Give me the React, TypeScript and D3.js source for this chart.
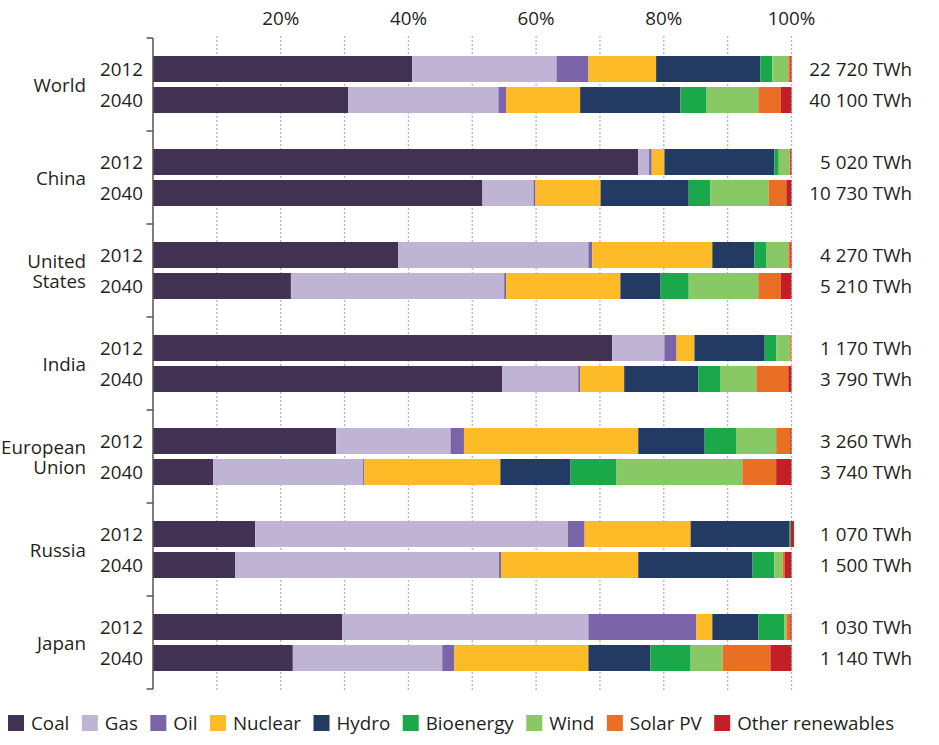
import React from "react";
import * as d3 from "d3";

const regions = ["World", "China", "United States", "India", "European Union", "Russia", "Japan"];
const regionLines = [["World"], ["China"], ["United", "States"], ["India"], ["European", "Union"], ["Russia"], ["Japan"]];
const years = ["2012", "2040"];
const sources = ["Coal", "Gas", "Oil", "Nuclear", "Hydro", "Bioenergy", "Wind", "Solar PV", "Other renewables"];
const colors = ["#413254", "#c0b4d4", "#7b65a8", "#fdbb28", "#233a63", "#1aa84a", "#88c865", "#e96f25", "#c22026"];
const totals = [
  "22 720 TWh", "40 100 TWh", "5 020 TWh", "10 730 TWh", "4 270 TWh", "5 210 TWh", "1 170 TWh",
  "3 790 TWh", "3 260 TWh", "3 740 TWh", "1 070 TWh", "1 500 TWh", "1 030 TWh", "1 140 TWh",
];
// shares (%) in order: World 2012, World 2040, China 2012, China 2040, ...
const coal = [40.6, 30.6, 76.0, 51.6, 38.4, 21.6, 71.9, 54.7, 28.7, 9.4, 16.0, 12.9, 29.6, 21.9];
const gas = [22.6, 23.5, 1.7, 8.0, 29.8, 33.4, 8.2, 11.9, 17.9, 23.5, 49.0, 41.3, 38.6, 23.4];
const oil = [5.0, 1.2, 0.4, 0.3, 0.6, 0.3, 1.9, 0.3, 2.1, 0.2, 2.6, 0.3, 16.9, 1.9];
const nuclear = [10.6, 11.6, 2.0, 10.2, 18.8, 17.9, 2.8, 6.9, 27.3, 21.3, 16.6, 21.5, 2.5, 21.0];
const hydro = [16.3, 15.7, 17.2, 13.8, 6.6, 6.3, 11.0, 11.6, 10.4, 11.0, 15.5, 17.9, 7.2, 9.7];
const bioenergy = [1.9, 4.1, 0.7, 3.4, 1.9, 4.4, 1.8, 3.5, 5.0, 7.2, 0.2, 3.4, 4.1, 6.3];
const wind = [2.5, 8.1, 1.7, 9.1, 3.4, 10.9, 2.2, 5.6, 6.2, 19.7, 0.0, 1.3, 0.3, 5.0];
const solar = [0.3, 3.5, 0.1, 2.8, 0.3, 3.5, 0.2, 5.0, 2.2, 5.3, 0.0, 0.3, 0.6, 7.5];
const other = [0.2, 1.7, 0.2, 0.8, 0.2, 1.7, 0.0, 0.5, 0.2, 2.4, 0.5, 1.1, 0.2, 3.3];
const tickValues = [10, 20, 30, 40, 50, 60, 70, 80, 90, 100];
const labeledTicks = [20, 40, 60, 80, 100];

const seriesArrays = [coal, gas, oil, nuclear, hydro, bioenergy, wind, solar, other];

const W = 939;
const H = 745;
const FS = 18.8;
const FONT = "'Open Sans', sans-serif";
const TXT = "#231f20";

function measure(text: string, size: number) {
  const c = document.createElement("canvas").getContext("2d");
  if (!c) return text.length * size * 0.5;
  c.font = `${size}px 'Open Sans'`;
  return c.measureText(text).width;
}

export default function App() {
  const rows = regions.flatMap((r, ri) =>
    years.map((y, yi) => {
      const idx = ri * 2 + yi;
      const o: any = { region: r, year: y, idx };
      sources.forEach((s, si) => (o[s] = seriesArrays[si][idx]));
      return o;
    })
  );
  const stack = d3.stack<any>().keys(sources)(rows);

  const x = d3.scaleLinear().domain([0, 100]).range([153, 791.5]);
  const yGroup = d3.scaleBand<string>().domain(regions).range([38, 689]);
  const yInner = d3
    .scaleBand<string>()
    .domain(years)
    .range([0, yGroup.bandwidth()])
    .paddingInner(5 / 31)
    .paddingOuter(18 / 31);
  const barY = (d: any) => (yGroup(d.region) as number) + (yInner(d.year) as number);
  const bh = yInner.bandwidth();

  // legend layout
  const legendY = 723;
  let lx = 8;
  const legendItems = sources.map((s, i) => {
    const item = { s, i, x: lx };
    lx += 16 + 7 + measure(s, FS) + 12.5;
    return item;
  });

  const gridTop = 36;
  const gridBottom = 690;

  return (
    <svg
      width={W}
      height={H}
      style={{ position: "absolute", left: 0, top: 0, background: "#fff" }}
      fontFamily={FONT}
    >
      {/* gridlines */}
      {tickValues.map((t) => (
        <line
          key={"g" + t}
          x1={x(t)}
          x2={x(t)}
          y1={gridTop}
          y2={gridBottom}
          stroke="#b4b4b4"
          strokeWidth={1.3}
          strokeDasharray="2,2"
        />
      ))}
      {/* tick labels */}
      {labeledTicks.map((t) => (
        <text
          key={"t" + t}
          x={x(t)}
          y={18}
          textAnchor="middle"
          dominantBaseline="central"
          fontSize={FS}
          fill={TXT}
        >
          {t}%
        </text>
      ))}
      {/* bars */}
      {stack.map((layer, si) => (
        <g key={layer.key} fill={colors[si]}>
          {layer.map((d: any, j: number) => {
            const w = x(d[1]) - x(d[0]);
            if (w <= 0) return null;
            return <rect key={j} x={x(d[0])} y={barY(d.data)} width={w} height={bh} />;
          })}
        </g>
      ))}
      {/* axis */}
      <line x1={153} x2={153} y1={yGroup(regions[0]) as number} y2={689} stroke="#555" strokeWidth={1.5} />
      {[...regions.map((r) => yGroup(r) as number), 689].map((yy, i) => (
        <line key={"tk" + i} x1={146.5} x2={153} y1={yy} y2={yy} stroke="#555" strokeWidth={1.5} />
      ))}
      {/* year labels & totals */}
      {rows.map((d: any) => (
        <g key={"l" + d.idx}>
          <text
            x={143}
            y={barY(d) + bh / 2}
            textAnchor="end"
            dominantBaseline="central"
            fontSize={FS}
            fill={TXT}
          >
            {d.year}
          </text>
          <text
            x={912}
            y={barY(d) + bh / 2}
            textAnchor="end"
            dominantBaseline="central"
            fontSize={FS}
            fill={TXT}
          >
            {totals[d.idx]}
          </text>
        </g>
      ))}
      {/* region labels */}
      {regions.map((r, ri) => {
        const lines = regionLines[ri];
        const cy = (yGroup(r) as number) + yGroup.bandwidth() / 2;
        const lh = 20;
        return (
          <text key={"r" + r} textAnchor="end" fontSize={FS} fill={TXT}>
            {lines.map((ln, li) => (
              <tspan
                key={li}
                x={86}
                y={cy + (li - (lines.length - 1) / 2) * lh}
                dominantBaseline="central"
              >
                {ln}
              </tspan>
            ))}
          </text>
        );
      })}
      {/* legend */}
      {legendItems.map((it) => (
        <g key={"lg" + it.s}>
          <rect x={it.x} y={legendY - 8} width={16} height={16} fill={colors[it.i]} />
          <text x={it.x + 23} y={legendY} dominantBaseline="central" fontSize={FS} fill={TXT}>
            {it.s}
          </text>
        </g>
      ))}
    </svg>
  );
}
